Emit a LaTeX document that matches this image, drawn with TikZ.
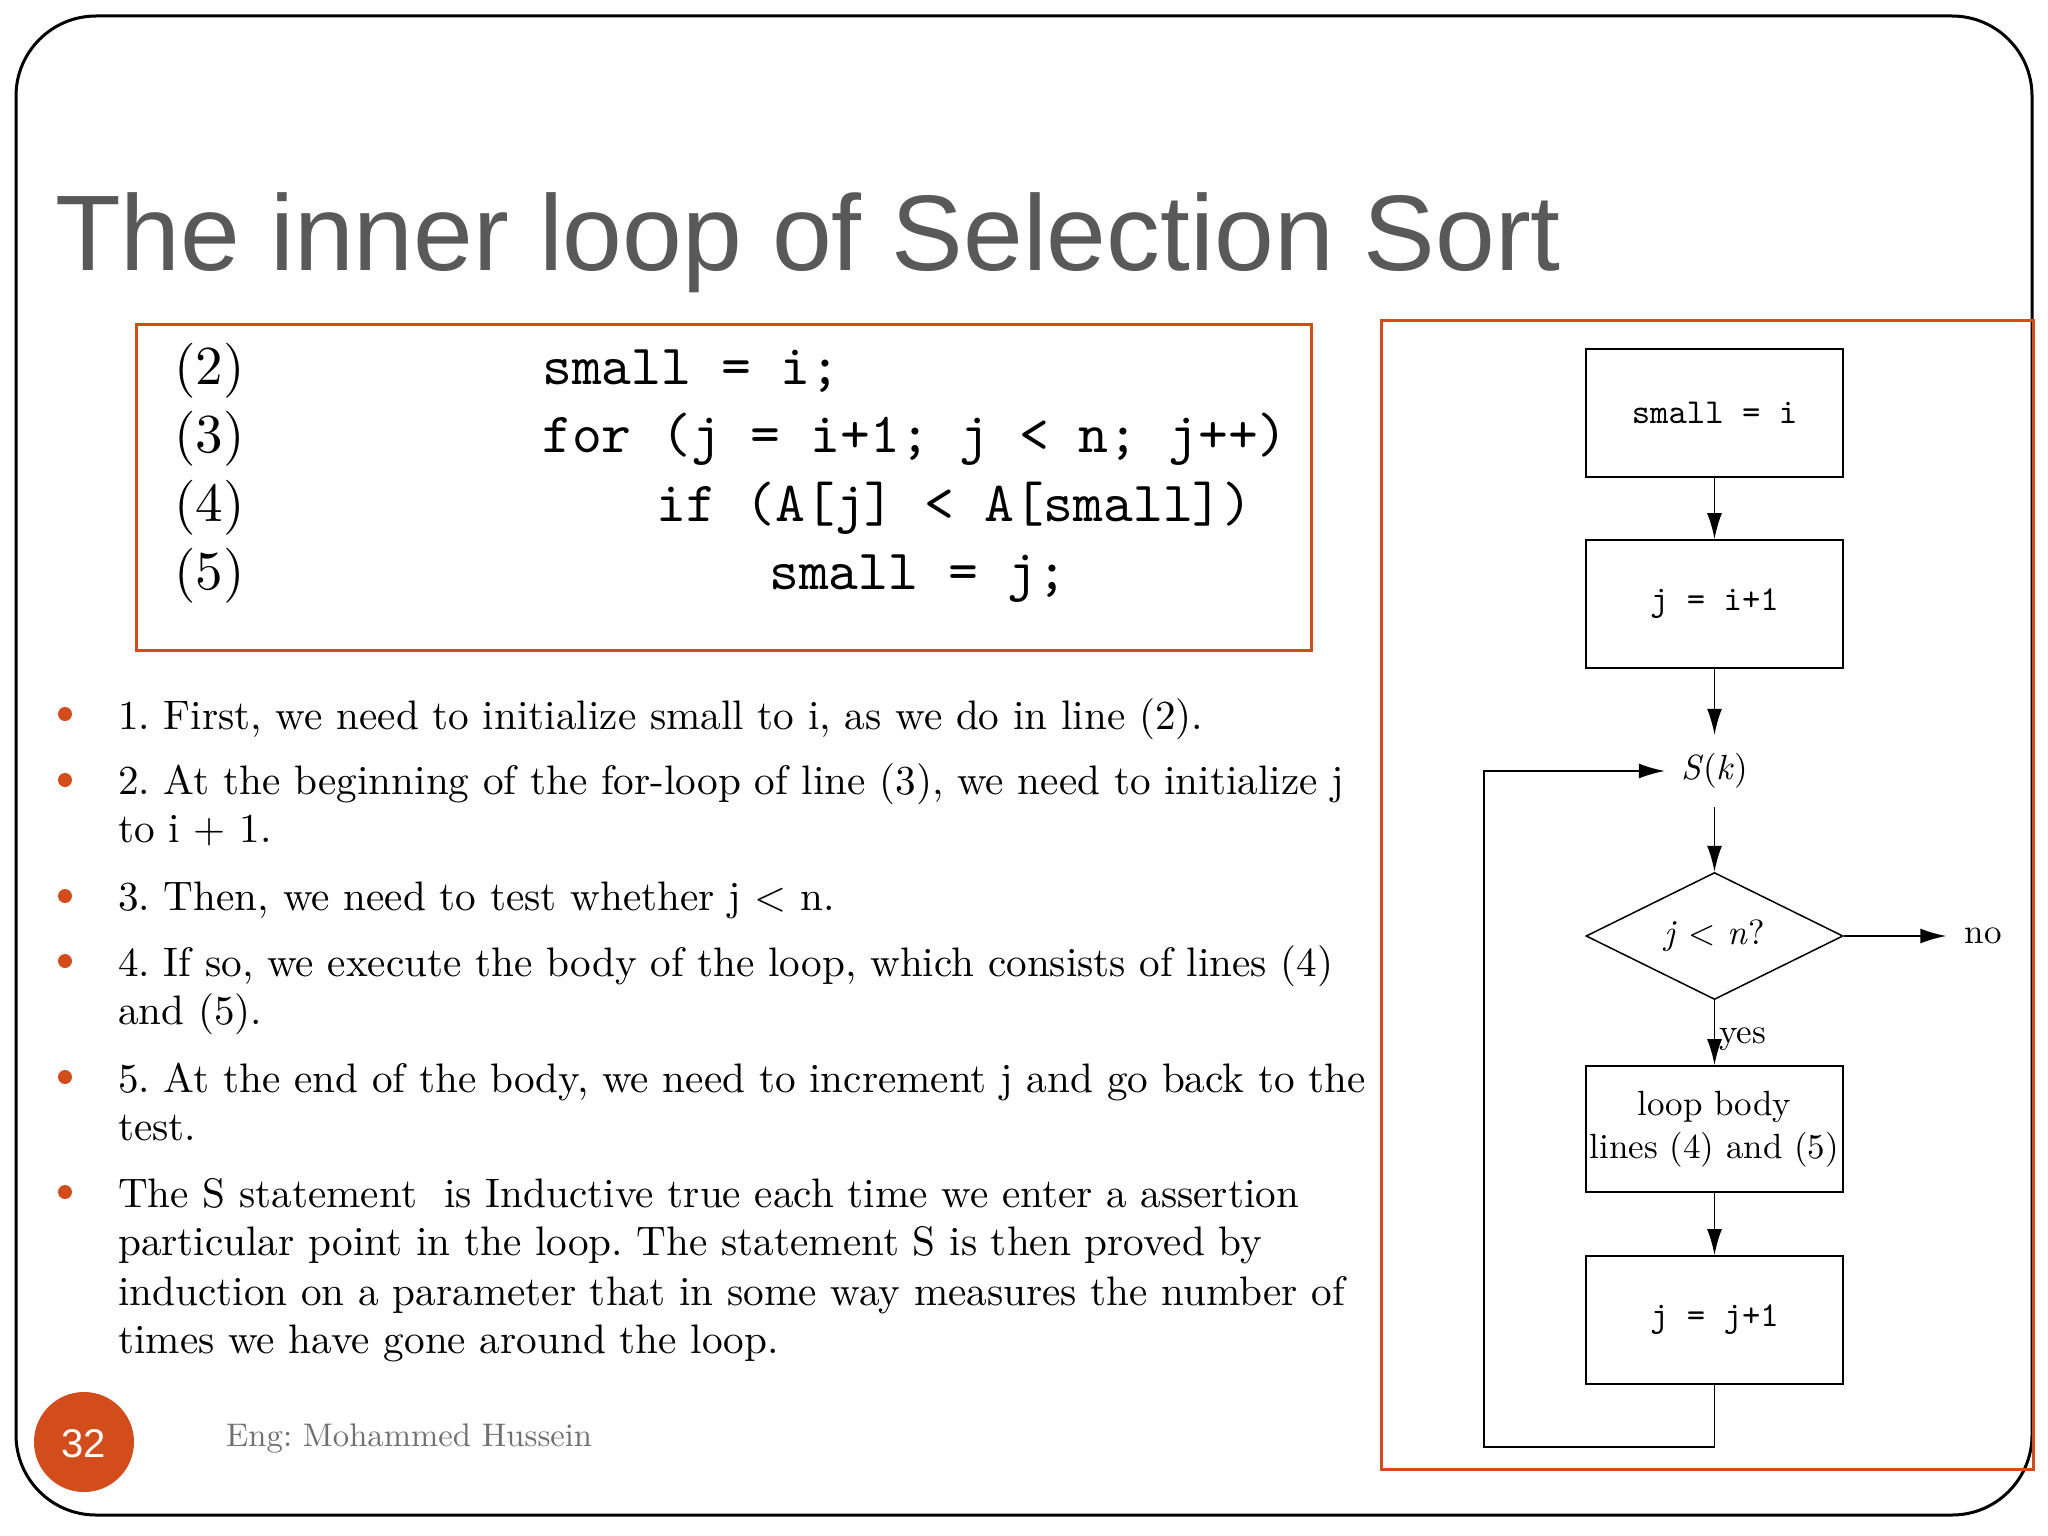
\documentclass[tikz,border=0pt]{standalone}
\usepackage{fontspec}
\newfontfamily\titlefont{Liberation Sans}
\newfontfamily\bodyfont{lmroman10-regular.otf}[ItalicFont=lmroman10-italic.otf]
\newfontfamily\codefont{lmmono10-regular.otf}
\usetikzlibrary{shapes.geometric,arrows.meta}
\definecolor{accent}{RGB}{210,76,28}
\definecolor{titlegrey}{RGB}{89,89,89}
\definecolor{footgrey}{RGB}{112,112,112}
\frenchspacing
\begin{document}
\begin{tikzpicture}[x=1pt,y=-1pt,
  titlestyle/.style={font=\titlefont\fontsize{107.5}{120}\selectfont, text=titlegrey, inner sep=0},
  codetxt/.style={font=\codefont\fontsize{56.8}{68}\selectfont, inner sep=0},
  numtxt/.style={font=\bodyfont\fontsize{55}{68}\selectfont, inner sep=0},
  bul/.style={font=\bodyfont\fontsize{41.2}{49}\selectfont, inner sep=0, anchor=base west},
  dot/.style={circle, fill=accent, minimum size=14, inner sep=0},
  frame/.style={draw=accent, line width=3, inner sep=0},
  fbox/.style={draw, line width=1.8, minimum width=257, minimum height=128, inner sep=0},
  ftt/.style={font=\codefont\fontsize{35}{43}\selectfont},
  frm/.style={font=\bodyfont\fontsize{35}{43}\selectfont},
  flow/.style={line width=1.8, -{Latex[length=26pt,width=15pt]}}
]
\useasboundingbox (0,0) rectangle (2048,1536);
\fill[white] (0,0) rectangle (2048,1536);
% outer frame
\draw[line width=3, rounded corners=80] (16,16) rectangle (2032,1515);
% title
\node[titlestyle, anchor=base west] (title) at (55,270) {The inner loop of Selection Sort};
% code box
\node[frame, minimum width=1175, minimum height=326, anchor=north west] (codebox) at (135,323) {};
\node[numtxt, anchor=base west] (n2) at (174,384) {(2)};
\node[numtxt, anchor=base west] (n3) at (174,452) {(3)};
\node[numtxt, anchor=base west] (n4) at (174,521) {(4)};
\node[numtxt, anchor=base west] (n5) at (174,589) {(5)};
\node[codetxt, anchor=base west] (c2) at (542,384) {small = i;};
\node[codetxt, anchor=base west] (c3) at (542,452) {for (j = i+1; j < n; j++)};
\node[codetxt, anchor=base west] (c4) at (656,521) {if (A[j] < A[small])};
\node[codetxt, anchor=base west] (c5) at (769,589) {small = j;};
% bullets
\node[dot] (d1) at (65,714) {};
\node[dot] (d2) at (65,780) {};
\node[dot] (d3) at (65,896) {};
\node[dot] (d4) at (65,961) {};
\node[dot] (d5) at (65,1077) {};
\node[dot] (d6) at (65,1192) {};
\node[bul] (t1) at (118,729) {1. First, we need to initialize small to i, as we do in line (2).};
\node[bul] (t2a) at (118,794) {2. At the beginning of the for-loop of line (3), we need to initialize j};
\node[bul] (t2b) at (118,842) {to i + 1.};
\node[bul] (t3) at (118,910) {3. Then, we need to test whether j < n.};
\node[bul] (t4a) at (118,976) {4. If so, we execute the body of the loop, which consists of lines (4)};
\node[bul] (t4b) at (118,1024) {and (5).};
\node[bul] (t5a) at (118,1092) {5. At the end of the body, we need to increment j and go back to the};
\node[bul] (t5b) at (118,1140) {test.};
\node[bul] (t6a) at (118,1207) {The S statement\ \ is Inductive true each time we enter a assertion};
\node[bul] (t6b) at (118,1255) {particular point in the loop. The statement S is then proved by};
\node[bul] (t6c) at (118,1305) {induction on a parameter that in some way measures the number of};
\node[bul] (t6d) at (118,1353) {times we have gone around the loop.};
% footer
\node[circle, fill=accent, minimum size=100, inner sep=0] (pg) at (84,1442) {};
\node[font=\titlefont\fontsize{40}{48}\selectfont, text=white, inner sep=0] (pgnum) at (84,1444) {32};
\node[font=\bodyfont\fontsize{32.7}{40}\selectfont, text=footgrey, anchor=base west, inner sep=0] (foot) at (226,1446) {Eng: Mohammed Hussein};
% flowchart frame
\node[frame, minimum width=652, minimum height=1149, anchor=north west] (flowbox) at (1380,319) {};
% flowchart
\node[fbox, ftt] (b1) at (1714.5,413) {small = i};
\node[fbox, ftt] (b2) at (1714.5,604) {j = i+1};
\node[frm, inner xsep=16, inner ysep=0, minimum height=72] (sk) at (1714.5,771) {\textit{S}(\textit{k})};
\node[draw, diamond, aspect=2, line width=1.5, minimum width=257, minimum height=127, inner sep=0, frm] (dm) at (1714.5,936) {\textit{j} < \textit{n}?};
\node[frm, inner xsep=18, inner ysep=0] (no) at (1983,936) {no};
\node[fbox, frm, align=center, minimum height=126] (b3) at (1714.5,1129) {loop body\\lines (4) and (5)};
\node[fbox, ftt] (b4) at (1714.5,1320) {j = j+1};
\node[frm, anchor=base west, inner sep=0] (yes) at (1719,1043) {yes};
\coordinate (lb) at (1714.5,1447);
\coordinate (lc) at (1484,1447);
\coordinate (ld) at (1484,771);
\draw[flow] (b1.south) -- (b2.north);
\draw[flow] (b2.south) -- (sk.north);
\draw[flow] (sk.south) -- (dm.north);
\draw[flow] (dm.east) -- (no.west);
\draw[flow] (dm.south) -- (b3.north);
\draw[flow] (b3.south) -- (b4.north);
\draw[flow] (b4.south) -- (lb) -- (lc) -- (ld) -- (sk.west);
\end{tikzpicture}
\end{document}
